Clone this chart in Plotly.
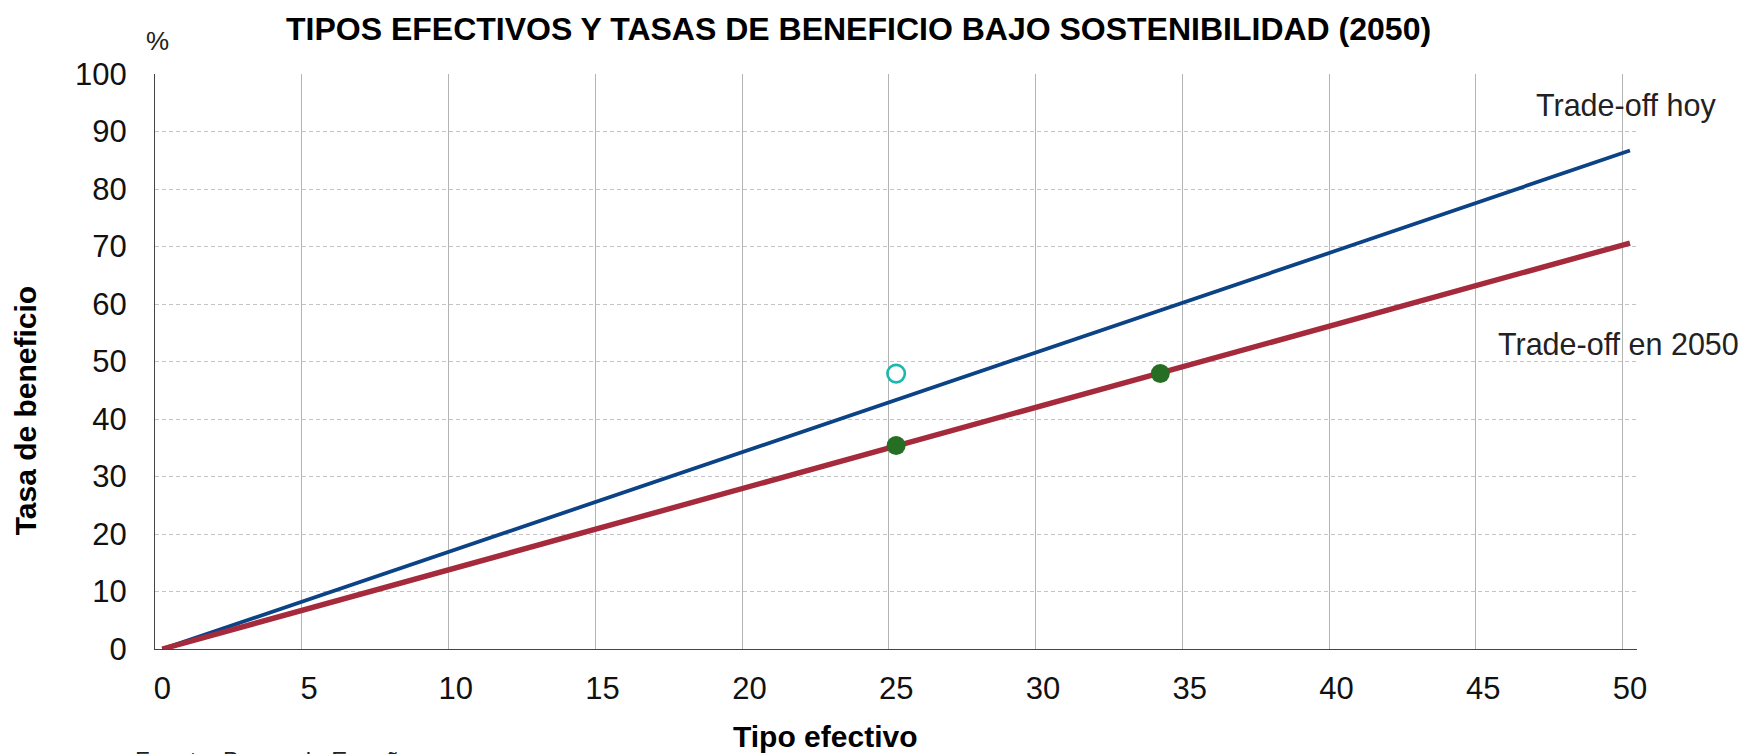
import plotly.graph_objects as go

# Data
x_line = [0, 10, 20, 30, 40, 50]
trade_off_hoy = [0, 17.3, 34.6, 52.0, 69.3, 86.7]
trade_off_2050 = [0, 14.1, 28.2, 42.4, 56.5, 70.6]

green_x = [25, 34]
green_y = [35.4, 47.9]
open_x = [25]
open_y = [47.9]

x_ticks = [0, 5, 10, 15, 20, 25, 30, 35, 40, 45, 50]
y_ticks = [0, 10, 20, 30, 40, 50, 60, 70, 80, 90, 100]

FONT = "Liberation Sans, Arial, Helvetica, sans-serif"
OFF = 8  # default body margin of the html page
W, H = 1758 - OFF, 754 - OFF
# plot area in reference pixels
L_ref, R_ref, T_ref, B_ref = 154.7, 1637, 74, 649
L, R, T, B = L_ref - OFF, R_ref - OFF, T_ref - OFF, B_ref - OFF


def px(xp):
    return (xp - L_ref) / (R_ref - L_ref)


def py(yp):
    return (B_ref - yp) / (B_ref - T_ref)


fig = go.Figure()
fig.add_trace(go.Scatter(x=x_line, y=trade_off_hoy, mode="lines",
                         line=dict(color="#0b4386", width=3.8), cliponaxis=False,
                         showlegend=False, hoverinfo="skip"))
fig.add_trace(go.Scatter(x=x_line, y=trade_off_2050, mode="lines",
                         line=dict(color="#a52a3c", width=5.4), cliponaxis=False,
                         showlegend=False, hoverinfo="skip"))
fig.add_trace(go.Scatter(x=green_x, y=green_y, mode="markers",
                         marker=dict(color="#276e25", size=19, line=dict(width=0)),
                         showlegend=False))
fig.add_trace(go.Scatter(x=open_x, y=open_y, mode="markers",
                         marker=dict(color="rgba(0,0,0,0)", size=17.5,
                                     line=dict(color="#1bb8ad", width=2.6)),
                         showlegend=False))

annotations = [
    dict(text="<b>TIPOS EFECTIVOS Y TASAS DE BENEFICIO BAJO SOSTENIBILIDAD (2050)</b>",
         x=px(858), y=py(OFF + 0.5), xanchor="center", yanchor="top",
         font=dict(size=32, color="#000000")),
    dict(text="%", x=px(157), y=py(41), xanchor="center", yanchor="middle",
         font=dict(size=26, color="#222222")),
    dict(text="Trade-off hoy", x=px(1534), y=py(106), xanchor="left", yanchor="middle",
         font=dict(size=30.5, color="#222222")),
    dict(text="Trade-off en 2050", x=px(1496), y=py(344), xanchor="left", yanchor="middle",
         font=dict(size=30.5, color="#222222")),
    dict(text="<b>Tipo efectivo</b>", x=px(825), y=py(736), xanchor="center", yanchor="middle",
         font=dict(size=30, color="#000000")),
    dict(text="<b>Tasa de beneficio</b>", x=px(25), y=py(410), xanchor="center", yanchor="middle",
         textangle=-90, font=dict(size=30, color="#000000")),
    dict(text="Fuente: Banco de España", x=px(133), y=py(745), xanchor="left", yanchor="top",
         font=dict(size=24, color="#222222")),
]
for a in annotations:
    a.update(xref="paper", yref="paper", showarrow=False)

fig.update_layout(
    width=W, height=H,
    margin=dict(l=L, r=W - R, t=T, b=H - B, pad=0, autoexpand=False),
    paper_bgcolor="white", plot_bgcolor="white",
    font=dict(family=FONT, size=30, color="#111111"),
    annotations=annotations,
    showlegend=False,
)
fig.update_xaxes(range=[-0.249, 50.24], tickvals=x_ticks, ticktext=[str(v) for v in x_ticks],
                 showgrid=False,
                 minor=dict(tick0=-0.249, dtick=5, showgrid=True, gridcolor="#b4b4b4",
                            gridwidth=1, ticks=""),
                 showline=True, linecolor="#444444", linewidth=1.2,
                 zeroline=False, ticks="", ticklabelstandoff=12,
                 tickfont=dict(size=31, color="#111111"), fixedrange=True)
fig.update_yaxes(range=[0, 100], tickvals=y_ticks, ticktext=[str(v) for v in y_ticks],
                 showgrid=True, gridcolor="#c4c4c4", gridwidth=1, griddash="4px,3px",
                 showline=True, linecolor="#444444", linewidth=1.2,
                 zeroline=False, ticks="", ticklabelstandoff=21,
                 tickfont=dict(size=31, color="#111111"), fixedrange=True)

fig.write_html("out.html")
